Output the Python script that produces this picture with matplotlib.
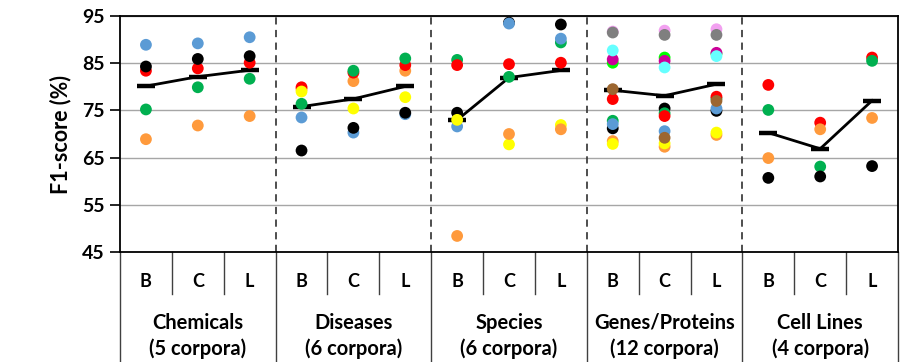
import numpy as np
import matplotlib
matplotlib.use("Agg")
import matplotlib.pyplot as plt
import matplotlib.transforms as mtransforms

plt.rcParams['font.family'] = ['Lato', 'DejaVu Sans']
plt.rcParams['font.weight'] = 'bold'

# data: rows = corpora, cols = B, C, L
models = ["B", "C", "L"]
groups = ["Chemicals", "Diseases", "Species", "Genes/Proteins", "Cell Lines"]
group_notes = ["(5 corpora)", "(6 corpora)", "(6 corpora)", "(12 corpora)", "(4 corpora)"]

BLUE, RED, BLACK, GREEN = "#5B9BD5", "#FF0000", "#000000", "#00B050"
ORANGE, YELLOW, GRAY, VIOLET = "#FF9A3C", "#FFFF00", "#7F7F7F", "#F2A0F0"
CYAN, MAGENTA, LIME, BROWN = "#66FFFF", "#CC0099", "#00FF00", "#9C6630"

chem_colors = [BLUE, RED, BLACK, GREEN, ORANGE]
chem_scores = [[88.9, 89.2, 90.5],
               [83.4, 83.9, 85.1],
               [84.3, 85.9, 86.5],
               [75.2, 79.9, 81.7],
               [68.9, 71.8, 73.8]]

dis_colors = [ORANGE, RED, GREEN, BLUE, BLACK, YELLOW]
dis_scores = [[79.5, 81.2, 83.4],
              [79.9, 83.0, 84.6],
              [76.4, 83.4, 86.0],
              [73.5, 70.3, 74.2],
              [66.5, 71.3, 74.5],
              [79.0, 75.4, 77.8]]

spe_colors = [GREEN, RED, BLACK, BLUE, YELLOW, ORANGE]
spe_scores = [[85.7, 82.1, 89.4],
              [84.6, 84.8, 85.1],
              [74.5, 93.6, 93.2],
              [71.6, 93.4, 90.2],
              [73.0, 67.8, 71.9],
              [48.4, 70.0, 71.0]]

gen_colors = [VIOLET, GRAY, LIME, MAGENTA, CYAN, BLACK, GREEN, BLUE, RED, ORANGE, YELLOW, BROWN]
gen_scores = [[91.7, 91.9, 92.2],
              [91.5, 91.0, 91.0],
              [85.1, 86.2, 87.0],
              [85.8, 85.5, 87.2],
              [87.7, 84.1, 86.5],
              [71.2, 75.4, 74.9],
              [72.8, 74.4, 77.5],
              [72.1, 70.6, 75.4],
              [77.4, 73.8, 77.9],
              [68.5, 67.3, 69.8],
              [67.9, 68.0, 70.3],
              [79.5, 69.2, 77.0]]

cell_colors = [RED, GREEN, ORANGE, BLACK]
cell_scores = [[80.4, 72.4, 86.2],
               [75.1, 63.1, 85.5],
               [64.9, 71.0, 73.4],
               [60.7, 61.0, 63.2]]

all_colors = [chem_colors, dis_colors, spe_colors, gen_colors, cell_colors]
all_scores = [chem_scores, dis_scores, spe_scores, gen_scores, cell_scores]

fig = plt.figure(figsize=(9.12, 3.62), dpi=100)
ax = fig.add_axes([120 / 912, 110 / 362, 778 / 912, 236 / 362])

n_slots = len(groups) * len(models)
ax.set_xlim(0, n_slots)
ax.set_ylim(45, 95)
ax.set_yticks([45, 55, 65, 75, 85, 95])
ax.tick_params(axis='y', direction='out', length=7, width=1.2, labelsize=14, pad=4)
ax.set_xticks([])
for lbl in ax.get_yticklabels():
    lbl.set_fontweight('bold')
ax.yaxis.grid(True, color="#A6A6A6", linewidth=1.0)
ax.set_axisbelow(True)
for sp in ax.spines.values():
    sp.set_linewidth(1.3)
    sp.set_color("black")

ax.set_ylabel("F1-score (%)", fontsize=15.5, fontweight='bold', labelpad=8)

trans = mtransforms.blended_transform_factory(ax.transData, ax.transAxes)

for g, (colors, scores) in enumerate(zip(all_colors, all_scores)):
    scores = np.array(scores)
    xs = g * 3 + np.arange(3) + 0.5
    means = scores.mean(axis=0)
    ax.plot(xs, means, color="black", linewidth=2.0, zorder=3)
    ax.plot(xs, means, linestyle="none", marker="_", markersize=13,
            markeredgewidth=3.2, color="black", zorder=3)
    for c, row in zip(colors, scores):
        ax.scatter(xs, row, s=72, color=c, edgecolors="none", zorder=4)

    # dashed group separators
    if g > 0:
        ax.axvline(g * 3, color="#404040", linestyle=(0, (4, 3)), linewidth=1.3, zorder=2)

    # category table below the axis
    for k, m in enumerate(models):
        ax.text(xs[k], -0.123, m, transform=trans, ha="center", va="center",
                fontsize=13, fontweight="bold")
    for k in (1, 2):
        ax.plot([g * 3 + k, g * 3 + k], [0, -0.18], transform=trans,
                color="#404040", linewidth=1.0, clip_on=False)
    ax.text(g * 3 + 1.5, -0.30, groups[g], transform=trans, ha="center",
            va="center", fontsize=14.5, fontweight="bold")
    ax.text(g * 3 + 1.5, -0.41, group_notes[g], transform=trans, ha="center",
            va="center", fontsize=14.5, fontweight="bold")

for b in range(len(groups) + 1):
    ax.plot([b * 3, b * 3], [0, -0.47], transform=trans, color="#404040",
            linewidth=1.0, clip_on=False)

fig.savefig("out.png", dpi=100, facecolor="white")
